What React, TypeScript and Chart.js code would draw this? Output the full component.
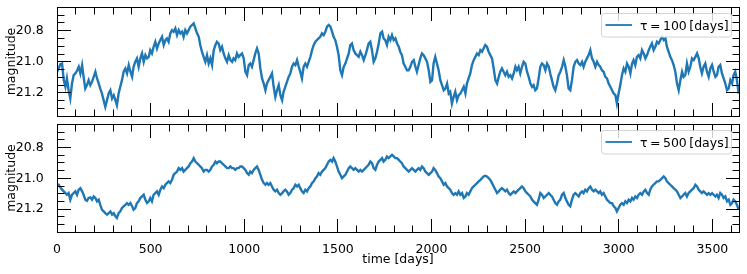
import React, { useEffect, useRef } from "react";
import { Chart, registerables } from "chart.js";

Chart.register(...registerables);

const FONT_FAMILY = '"DejaVu Sans", "Liberation Sans", sans-serif';
const BLUE = "#1f77b4";

// sampling times [days]
const time = [
  0, 9, 18, 27, 36, 45, 53, 62, 71, 80,
  89, 98, 107, 116, 125, 134, 142, 151, 160, 169,
  178, 187, 196, 205, 214, 223, 231, 240, 249, 258,
  267, 276, 285, 294, 303, 312, 320, 329, 338, 347,
  356, 365, 374, 383, 392, 401, 409, 418, 427, 436,
  445, 454, 463, 472, 481, 490, 498, 507, 516, 525,
  534, 543, 552, 561, 570, 579, 587, 596, 605, 614,
  623, 632, 641, 650, 659, 668, 676, 685, 694, 703,
  712, 721, 730, 739, 748, 757, 765, 774, 783, 792,
  801, 810, 819, 828, 837, 846, 854, 863, 872, 881,
  890, 899, 908, 917, 926, 935, 943, 952, 961, 970,
  979, 988, 997, 1006, 1015, 1024, 1032, 1041, 1050, 1059,
  1068, 1077, 1086, 1095, 1104, 1113, 1121, 1130, 1139, 1148,
  1157, 1166, 1175, 1184, 1193, 1202, 1210, 1219, 1228, 1237,
  1246, 1255, 1264, 1273, 1282, 1291, 1299, 1308, 1317, 1326,
  1335, 1344, 1353, 1362, 1371, 1380, 1388, 1397, 1406, 1415,
  1424, 1433, 1442, 1451, 1460, 1469, 1477, 1486, 1495, 1504,
  1513, 1522, 1531, 1540, 1549, 1558, 1566, 1575, 1584, 1593,
  1602, 1611, 1620, 1629, 1638, 1647, 1655, 1664, 1673, 1682,
  1691, 1700, 1709, 1718, 1727, 1736, 1744, 1753, 1762, 1771,
  1780, 1789, 1798, 1807, 1816, 1825, 1833, 1842, 1851, 1860,
  1869, 1878, 1887, 1896, 1905, 1914, 1922, 1931, 1940, 1949,
  1958, 1967, 1976, 1985, 1994, 2003, 2011, 2020, 2029, 2038,
  2047, 2056, 2065, 2074, 2083, 2092, 2100, 2109, 2118, 2127,
  2136, 2145, 2154, 2163, 2172, 2181, 2189, 2198, 2207, 2216,
  2225, 2234, 2243, 2252, 2261, 2270, 2278, 2287, 2296, 2305,
  2314, 2323, 2332, 2341, 2350, 2359, 2367, 2376, 2385, 2394,
  2403, 2412, 2421, 2430, 2439, 2448, 2456, 2465, 2474, 2483,
  2492, 2501, 2510, 2519, 2528, 2537, 2545, 2554, 2563, 2572,
  2581, 2590, 2599, 2608, 2617, 2626, 2634, 2643, 2652, 2661,
  2670, 2679, 2688, 2697, 2706, 2715, 2723, 2732, 2741, 2750,
  2759, 2768, 2777, 2786, 2795, 2804, 2812, 2821, 2830, 2839,
  2848, 2857, 2866, 2875, 2884, 2893, 2901, 2910, 2919, 2928,
  2937, 2946, 2955, 2964, 2973, 2982, 2990, 2999, 3008, 3017,
  3026, 3035, 3044, 3053, 3062, 3071, 3079, 3088, 3097, 3106,
  3115, 3124, 3133, 3142, 3151, 3160, 3168, 3177, 3186, 3195,
  3204, 3213, 3222, 3231, 3240, 3249, 3257, 3266, 3275, 3284,
  3293, 3302, 3311, 3320, 3329, 3338, 3346, 3355, 3364, 3373,
  3382, 3391, 3400, 3409, 3418, 3427, 3435, 3444, 3453, 3462,
  3471, 3480, 3489, 3498, 3507, 3516, 3524, 3533, 3542, 3551,
  3560, 3569, 3578, 3587, 3596, 3605, 3613, 3622, 3631, 3640,
];

// magnitude, tau = 100 days
const mag100 = [
  21.064, 21.043, 21.015, 21.011, 21.118, 21.161, 21.107, 21.183, 21.236, 21.140,
  21.086, 21.075, 21.058, 21.032, 21.075, 21.021, 21.097, 21.172, 21.150, 21.118,
  21.150, 21.129, 21.097, 21.064, 21.107, 21.140, 21.172, 21.204, 21.247, 21.290,
  21.247, 21.204, 21.183, 21.236, 21.215, 21.247, 21.279, 21.204, 21.161, 21.118,
  21.064, 21.043, 21.075, 21.021, 21.064, 21.097, 21.032, 21.000, 20.978, 21.032,
  20.978, 20.946, 21.000, 20.957, 20.978, 20.968, 20.925, 20.946, 20.903, 20.871,
  20.914, 20.882, 20.860, 20.839, 20.892, 20.860, 20.849, 20.871, 20.817, 20.796,
  20.806, 20.785, 20.828, 20.796, 20.817, 20.806, 20.839, 20.796, 20.817, 20.796,
  20.774, 20.763, 20.753, 20.785, 20.817, 20.839, 20.892, 20.935, 20.968, 21.000,
  20.957, 21.011, 20.978, 21.021, 20.925, 20.892, 20.871, 20.882, 20.925, 20.903,
  20.946, 20.978, 21.000, 20.957, 20.989, 21.000, 20.978, 20.989, 20.946, 20.968,
  20.957, 20.946, 20.978, 21.064, 21.086, 21.021, 21.011, 21.032, 20.989, 20.946,
  20.914, 20.946, 21.043, 21.107, 21.140, 21.183, 21.140, 21.118, 21.097, 21.075,
  21.161, 21.226, 21.183, 21.150, 21.215, 21.247, 21.193, 21.161, 21.129, 21.097,
  21.075, 21.032, 21.011, 21.021, 20.989, 21.032, 21.064, 21.107, 21.032, 21.011,
  21.032, 21.000, 20.968, 20.925, 20.892, 20.871, 20.860, 20.849, 20.839, 20.817,
  20.828, 20.806, 20.774, 20.763, 20.774, 20.806, 20.839, 20.860, 20.903, 20.957,
  21.054, 21.086, 21.032, 21.011, 20.978, 20.946, 20.892, 20.882, 20.925, 20.946,
  20.957, 20.968, 20.935, 20.957, 20.989, 20.957, 20.925, 20.882, 20.871, 20.925,
  21.000, 20.978, 20.935, 20.882, 20.817, 20.806, 20.849, 20.860, 20.892, 20.839,
  20.860, 20.828, 20.860, 20.849, 20.882, 20.903, 20.935, 20.957, 21.011, 21.032,
  21.054, 21.054, 21.032, 21.000, 20.989, 21.032, 21.064, 21.021, 20.978, 20.946,
  20.957, 20.978, 21.000, 21.054, 21.129, 21.118, 21.011, 20.968, 21.011, 21.054,
  21.118, 21.150, 21.183, 21.172, 21.140, 21.204, 21.193, 21.269, 21.226, 21.193,
  21.247, 21.215, 21.204, 21.183, 21.161, 21.204, 21.140, 21.107, 21.075, 21.021,
  20.989, 20.968, 20.946, 20.957, 20.925, 20.935, 20.914, 20.892, 20.903, 20.935,
  20.957, 20.978, 21.043, 21.118, 21.140, 21.097, 21.064, 21.043, 21.064, 21.086,
  21.064, 21.097, 21.086, 21.107, 21.075, 21.032, 21.054, 21.032, 21.075, 21.032,
  21.000, 21.011, 21.064, 21.097, 21.140, 21.161, 21.150, 21.183, 21.172, 21.107,
  21.032, 21.011, 21.021, 21.054, 21.011, 21.032, 21.075, 21.118, 21.161, 21.183,
  21.140, 21.086, 21.064, 21.032, 20.989, 21.032, 21.086, 21.172, 21.183, 21.118,
  21.032, 21.000, 20.989, 21.011, 21.021, 21.000, 21.032, 21.000, 20.978, 20.957,
  20.925, 20.978, 21.000, 21.032, 21.000, 21.021, 21.032, 21.054, 21.064, 21.097,
  21.107, 21.140, 21.161, 21.183, 21.204, 21.215, 21.269, 21.204, 21.150, 21.086,
  21.043, 21.064, 21.011, 21.032, 21.075, 21.011, 20.989, 21.021, 20.968, 20.957,
  20.978, 20.925, 20.946, 20.978, 20.957, 20.925, 20.903, 20.882, 20.925, 20.903,
  20.871, 20.882, 20.860, 20.839, 20.860, 20.849, 20.903, 20.935, 20.968, 20.989,
  21.021, 21.064, 21.140, 21.183, 21.118, 21.064, 21.097, 21.086, 21.011, 21.064,
  21.032, 20.978, 20.989, 20.968, 20.946, 20.978, 21.032, 21.075, 21.032, 21.011,
  21.064, 21.097, 21.043, 21.021, 21.064, 21.097, 21.086, 21.032, 21.021, 21.075,
  21.107, 21.140, 21.183, 21.172, 21.118, 21.140, 21.086, 21.064, 21.118, 21.204,
];

// magnitude, tau = 500 days
const mag500 = [
  21.042, 21.042, 21.059, 21.074, 21.085, 21.096, 21.107, 21.096, 21.139, 21.107,
  21.096, 21.085, 21.107, 21.074, 21.064, 21.085, 21.107, 21.139, 21.146, 21.128,
  21.124, 21.139, 21.118, 21.128, 21.150, 21.139, 21.172, 21.204, 21.215, 21.226,
  21.236, 21.226, 21.215, 21.236, 21.226, 21.247, 21.258, 21.226, 21.215, 21.193,
  21.182, 21.172, 21.161, 21.172, 21.161, 21.182, 21.204, 21.193, 21.161, 21.150,
  21.128, 21.118, 21.107, 21.139, 21.161, 21.150, 21.128, 21.150, 21.107, 21.096,
  21.085, 21.107, 21.074, 21.053, 21.064, 21.042, 21.031, 21.020, 21.031, 21.010,
  20.977, 20.966, 20.956, 20.934, 20.945, 20.934, 20.956, 20.945, 20.934, 20.923,
  20.902, 20.891, 20.869, 20.891, 20.902, 20.912, 20.923, 20.934, 20.956, 20.945,
  20.945, 20.956, 20.945, 20.923, 20.912, 20.891, 20.902, 20.891, 20.891, 20.902,
  20.912, 20.923, 20.934, 20.934, 20.923, 20.934, 20.934, 20.945, 20.934, 20.934,
  20.923, 20.923, 20.934, 20.945, 20.966, 20.977, 20.956, 20.966, 20.945, 20.934,
  20.923, 20.945, 20.977, 21.010, 21.031, 21.042, 21.031, 21.042, 21.031, 21.053,
  21.074, 21.085, 21.074, 21.096, 21.107, 21.096, 21.085, 21.074, 21.085, 21.107,
  21.096, 21.074, 21.064, 21.042, 21.053, 21.042, 21.064, 21.085, 21.096, 21.074,
  21.085, 21.064, 21.053, 21.031, 21.020, 20.999, 20.988, 20.966, 20.977, 20.956,
  20.945, 20.934, 20.912, 20.891, 20.880, 20.891, 20.869, 20.891, 20.923, 20.956,
  20.977, 20.999, 20.988, 20.977, 20.956, 20.934, 20.923, 20.934, 20.945, 20.934,
  20.945, 20.956, 20.945, 20.956, 20.945, 20.934, 20.923, 20.912, 20.891, 20.902,
  20.934, 20.945, 20.912, 20.891, 20.880, 20.869, 20.891, 20.880, 20.858, 20.869,
  20.858, 20.848, 20.858, 20.869, 20.869, 20.880, 20.891, 20.902, 20.923, 20.934,
  20.945, 20.956, 20.945, 20.934, 20.945, 20.956, 20.945, 20.934, 20.945, 20.923,
  20.934, 20.956, 20.966, 20.977, 20.966, 20.956, 20.934, 20.945, 20.966, 20.988,
  20.999, 21.020, 21.042, 21.031, 21.053, 21.064, 21.074, 21.096, 21.107, 21.096,
  21.107, 21.085, 21.107, 21.096, 21.128, 21.118, 21.096, 21.107, 21.085, 21.064,
  21.053, 21.042, 21.031, 21.020, 21.010, 20.999, 20.988, 20.984, 20.988, 20.999,
  21.010, 21.031, 21.053, 21.074, 21.096, 21.085, 21.074, 21.064, 21.074, 21.085,
  21.074, 21.096, 21.107, 21.096, 21.085, 21.096, 21.085, 21.074, 21.064, 21.053,
  21.064, 21.085, 21.096, 21.107, 21.118, 21.139, 21.150, 21.161, 21.172, 21.139,
  21.096, 21.107, 21.128, 21.118, 21.107, 21.096, 21.107, 21.118, 21.139, 21.161,
  21.172, 21.150, 21.139, 21.107, 21.096, 21.128, 21.150, 21.172, 21.182, 21.139,
  21.107, 21.096, 21.107, 21.118, 21.096, 21.085, 21.096, 21.074, 21.085, 21.064,
  21.053, 21.074, 21.085, 21.074, 21.085, 21.096, 21.085, 21.107, 21.096, 21.118,
  21.139, 21.150, 21.161, 21.161, 21.182, 21.193, 21.215, 21.193, 21.172, 21.161,
  21.172, 21.150, 21.161, 21.139, 21.150, 21.128, 21.139, 21.118, 21.128, 21.107,
  21.096, 21.107, 21.085, 21.074, 21.096, 21.107, 21.074, 21.053, 21.042, 21.031,
  21.020, 21.020, 21.010, 20.999, 20.988, 20.999, 21.020, 21.031, 21.042, 21.053,
  21.064, 21.074, 21.085, 21.107, 21.128, 21.118, 21.107, 21.096, 21.118, 21.096,
  21.085, 21.074, 21.064, 21.042, 21.053, 21.074, 21.085, 21.096, 21.085, 21.096,
  21.107, 21.096, 21.107, 21.096, 21.107, 21.118, 21.107, 21.128, 21.096, 21.107,
  21.128, 21.118, 21.150, 21.139, 21.172, 21.161, 21.139, 21.150, 21.172, 21.204,
];

const xTicks = [0, 500, 1000, 1500, 2000, 2500, 3000, 3500];
const xMinorTicks = [
  100, 200, 300, 400, 600, 700, 800, 900, 1100, 1200, 1300, 1400, 1600, 1700, 1800, 1900,
  2100, 2200, 2300, 2400, 2600, 2700, 2800, 2900, 3100, 3200, 3300, 3400, 3600,
];
const yTicks = [20.8, 21.0, 21.2];
const yMinorTicks = [20.65, 20.7, 20.75, 20.85, 20.9, 20.95, 21.05, 21.1, 21.15, 21.25, 21.3, 21.35];

const X_MIN = 0;
const X_MAX = 3642;
const Y_MIN = 20.647;
const Y_MAX = 21.349;

const legendLabels = ["τ = 100 [days]", "τ = 500 [days]"];
const yTitle = "magnitude";
const xTitle = "time [days]";

const FONT_SIZE = 12.5;

function overlayPlugin(label: string) {
  return {
    id: "overlay",
    afterDatasetsDraw(chart: any) {
      const { ctx, chartArea: a, scales } = chart;
      const xs = scales.x;
      const ys = scales.y;
      const snap = (v: number) => Math.floor(v) + 0.5;
      const L = snap(a.left);
      const R = snap(a.right);
      const T = snap(a.top);
      const B = snap(a.bottom);
      ctx.save();
      ctx.strokeStyle = "#000";
      ctx.lineWidth = 1;
      ctx.beginPath();
      const xSets: [number[], number][] = [
        [xTicks, 13.5],
        [xMinorTicks, 7],
      ];
      for (const [vals, len] of xSets) {
        for (const v of vals) {
          if (v < X_MIN || v > X_MAX) continue;
          const px = snap(xs.getPixelForValue(v));
          ctx.moveTo(px, B);
          ctx.lineTo(px, B - len);
          ctx.moveTo(px, T);
          ctx.lineTo(px, T + len);
        }
      }
      const ySets: [number[], number][] = [
        [yTicks, 13.5],
        [yMinorTicks, 7],
      ];
      for (const [vals, len] of ySets) {
        for (const v of vals) {
          if (v < Y_MIN || v > Y_MAX) continue;
          const py = snap(ys.getPixelForValue(v));
          ctx.moveTo(L, py);
          ctx.lineTo(L + len, py);
          ctx.moveTo(R, py);
          ctx.lineTo(R - len, py);
        }
      }
      ctx.stroke();
      ctx.strokeRect(L, T, R - L, B - T);

      // legend
      const bw = 130;
      const bh = 23.5;
      const bx = Math.round(a.right - 8 - bw) + 0.5;
      const by = Math.round(a.top + 6) + 0.5;
      ctx.beginPath();
      if (typeof ctx.roundRect === "function") ctx.roundRect(bx, by, bw, bh, 3);
      else ctx.rect(bx, by, bw, bh);
      ctx.fillStyle = "rgba(255,255,255,0.8)";
      ctx.fill();
      ctx.strokeStyle = "rgba(204,204,204,0.85)";
      ctx.lineWidth = 1;
      ctx.stroke();
      ctx.beginPath();
      ctx.moveTo(bx + 4, by + 11.5);
      ctx.lineTo(bx + 30.5, by + 11.5);
      ctx.strokeStyle = BLUE;
      ctx.lineWidth = 1.8;
      ctx.stroke();
      ctx.fillStyle = "#000";
      ctx.font = `${FONT_SIZE}px ${FONT_FAMILY}`;
      ctx.textAlign = "left";
      ctx.textBaseline = "alphabetic";
      try {
        (ctx as any).wordSpacing = "-1.5px";
      } catch (e) {}
      ctx.fillText(label, bx + 38.5, by + 16.3);
      ctx.restore();
    },
  };
}

function makeConfig(values: number[], showX: boolean, label: string, padding: any): any {
  const font = { family: FONT_FAMILY, size: FONT_SIZE };
  return {
    type: "line",
    data: {
      datasets: [
        {
          data: time.map((t, i) => ({ x: t, y: values[i] })),
          borderColor: BLUE,
          borderWidth: 2.4,
          pointRadius: 0,
          fill: false,
          tension: 0,
        },
      ],
    },
    options: {
      responsive: false,
      animation: false,
      devicePixelRatio: 1,
      layout: { padding },
      events: [],
      plugins: { legend: { display: false }, tooltip: { enabled: false } },
      scales: {
        x: {
          type: "linear",
          min: X_MIN,
          max: X_MAX,
          display: showX,
          grid: { display: false },
          border: { display: false },
          afterBuildTicks: (s: any) => {
            s.ticks = xTicks.map((v) => ({ value: v }));
          },
          ticks: {
            font,
            color: "#000",
            padding: 2.5,
            maxRotation: 0,
            minRotation: 0,
            autoSkip: false,
            callback: (v: any) => String(v),
          },
          title: {
            display: true,
            text: xTitle,
            font,
            color: "#000",
            padding: { top: 0, bottom: 7 },
          },
          afterFit: (s: any) => {
            s.height = showX ? 42 : 0;
            s.paddingLeft = 0;
            s.paddingRight = 0;
          },
        },
        y: {
          type: "linear",
          reverse: true,
          min: Y_MIN,
          max: Y_MAX,
          grid: { display: false },
          border: { display: false },
          afterBuildTicks: (s: any) => {
            s.ticks = yTicks.map((v) => ({ value: v }));
          },
          ticks: {
            font,
            color: "#000",
            padding: 5.3,
            autoSkip: false,
            callback: (v: any) => Number(v).toFixed(1),
          },
          title: {
            display: true,
            text: yTitle,
            font,
            color: "#000",
            padding: { top: 4.5, bottom: 0 },
          },
          afterFit: (s: any) => {
            s.width = 57;
            s.paddingTop = 0;
            s.paddingBottom = 0;
          },
        },
      },
    },
    plugins: [overlayPlugin(label)],
  };
}

export default function App() {
  const topRef = useRef<HTMLCanvasElement>(null);
  const botRef = useRef<HTMLCanvasElement>(null);

  useEffect(() => {
    const c1 = new Chart(
      topRef.current as HTMLCanvasElement,
      makeConfig(mag100, false, legendLabels[0], { left: 0, right: 8, top: 7, bottom: 4 })
    );
    const c2 = new Chart(
      botRef.current as HTMLCanvasElement,
      makeConfig(mag500, true, legendLabels[1], { left: 0, right: 8, top: 4, bottom: 0 })
    );
    return () => {
      c1.destroy();
      c2.destroy();
    };
  }, []);

  return (
    <div
      style={{
        position: "fixed",
        left: 0,
        top: 0,
        width: 747,
        height: 274,
        background: "#ffffff",
        overflow: "hidden",
      }}
    >
      <canvas
        ref={topRef}
        width={747}
        height={120}
        style={{ position: "absolute", left: 0, top: 0, width: 747, height: 120 }}
      />
      <canvas
        ref={botRef}
        width={747}
        height={154}
        style={{ position: "absolute", left: 0, top: 120, width: 747, height: 154 }}
      />
    </div>
  );
}
